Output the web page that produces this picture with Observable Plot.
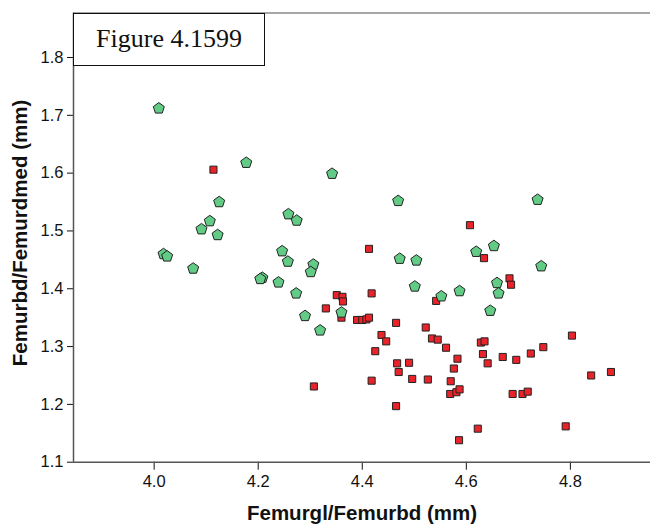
<!DOCTYPE html>
<html><head><meta charset="utf-8">
<script src="https://cdn.jsdelivr.net/npm/d3@7"></script>
<script src="https://cdn.jsdelivr.net/npm/@observablehq/plot@0.6"></script>
<style>
body{margin:0;background:#fff}
#chart{position:relative;width:650px;height:528px}
#fig{position:absolute;left:73px;top:12.5px;width:190px;height:51px;border:1.5px solid #111;background:#fff;
 font-family:"Liberation Serif","Times New Roman",serif;font-size:26px;color:#111;display:flex;align-items:center;justify-content:center;box-sizing:content-box}
</style>
</head><body>
<div id="chart"><div id="fig">Figure 4.1599</div></div>
<script>
const titleText = "Figure 4.1599";
const xLabel = "Femurgl/Femurbd (mm)";
const yLabel = "Femurbd/Femurdmed (mm)";
const xTicks = [4.0, 4.2, 4.4, 4.6, 4.8];
const yTicks = [1.1, 1.2, 1.3, 1.4, 1.5, 1.6, 1.7, 1.8];

// Group 1 (green pentagons)
const group1X = [4.009, 4.177, 4.125, 4.107, 4.091, 4.122, 4.258, 4.274, 4.018, 4.025,
  4.075, 4.246, 4.257, 4.342, 4.469, 4.472, 4.504, 4.306, 4.301, 4.737,
  4.653, 4.619, 4.744, 4.208, 4.204, 4.239, 4.273, 4.290, 4.319, 4.360,
  4.501, 4.552, 4.587, 4.659, 4.662, 4.646];
const group1Y = [1.713, 1.619, 1.551, 1.518, 1.504, 1.494, 1.530, 1.519, 1.461, 1.457,
  1.436, 1.466, 1.448, 1.600, 1.553, 1.453, 1.450, 1.443, 1.430, 1.555,
  1.475, 1.465, 1.440, 1.420, 1.418, 1.412, 1.393, 1.354, 1.329, 1.360,
  1.405, 1.388, 1.397, 1.411, 1.393, 1.363];

// Group 2 (red squares)
const group2X = [4.114, 4.413, 4.607, 4.634, 4.683, 4.686, 4.330, 4.307, 4.351, 4.362,
  4.363, 4.360, 4.390, 4.400, 4.408, 4.413, 4.418, 4.542, 4.465, 4.522,
  4.437, 4.446, 4.534, 4.545, 4.561, 4.425, 4.467, 4.490, 4.470, 4.418,
  4.496, 4.526, 4.570, 4.569, 4.581, 4.587, 4.465, 4.628, 4.635, 4.632,
  4.583, 4.670, 4.696, 4.724, 4.748, 4.641, 4.576, 4.803, 4.840, 4.878,
  4.689, 4.708, 4.718, 4.791, 4.622, 4.586];
const group2Y = [1.606, 1.469, 1.510, 1.453, 1.418, 1.407, 1.366, 1.231, 1.389, 1.386,
  1.378, 1.350, 1.346, 1.346, 1.347, 1.350, 1.392, 1.379, 1.341, 1.333,
  1.320, 1.309, 1.314, 1.312, 1.298, 1.292, 1.271, 1.272, 1.256, 1.241,
  1.244, 1.243, 1.240, 1.218, 1.221, 1.226, 1.197, 1.307, 1.309, 1.287,
  1.279, 1.282, 1.277, 1.288, 1.299, 1.271, 1.262, 1.319, 1.250, 1.256,
  1.218, 1.218, 1.222, 1.162, 1.158, 1.138];

const group1 = group1X.map((x, i) => ({x, y: group1Y[i]}));
const group2 = group2X.map((x, i) => ({x, y: group2Y[i]}));

const pentagon = {
  draw(ctx, size) {
    const r = Math.sqrt(size / Math.PI);
    for (let i = 0; i < 5; i++) {
      const a = -Math.PI / 2 + i * 2 * Math.PI / 5;
      const px = r * Math.cos(a), py = r * Math.sin(a) + r * 0.1;
      if (i === 0) ctx.moveTo(px, py); else ctx.lineTo(px, py);
    }
    ctx.closePath();
  }
};

const xMin = 3.845, xMax = 4.954, yMin = 1.1, yMax = 1.877;

const svg = Plot.plot({
  width: 650, height: 528,
  marginLeft: 73, marginRight: 0, marginTop: 12.5, marginBottom: 66.3,
  style: {fontFamily: "'Liberation Sans', Arial, sans-serif", fontSize: "16.5px", color: "#111", background: "#fff", overflow: "visible"},
  x: {domain: [xMin, xMax], ticks: xTicks, tickFormat: d3.format(".1f"), tickSize: 8, tickPadding: 5, label: null},
  y: {domain: [yMin, yMax], ticks: yTicks, tickFormat: d3.format(".1f"), tickSize: 6, tickPadding: 4, label: null},
  marks: [
    Plot.ruleY([yMax], {stroke: "#888", strokeWidth: 1.5}),
    Plot.ruleY([yMin], {stroke: "#555", strokeWidth: 1.5}),
    Plot.ruleX([xMin], {stroke: "#555", strokeWidth: 1.5}),
    Plot.dot(group2, {x: "x", y: "y", symbol: "square", r: 4, fill: "#e8232a", stroke: "#222", strokeWidth: 1}),
    Plot.dot(group1, {x: "x", y: "y", symbol: pentagon, r: 5.8, fill: "#62cc86", stroke: "#222", strokeWidth: 1})
  ]
});

const s = d3.select(svg);
s.append("text").attr("x", 362).attr("y", 520).attr("text-anchor", "middle")
  .attr("font-weight", "bold").attr("font-size", 20.5).attr("fill", "#111").text(xLabel);
s.append("text").attr("transform", "translate(27,233) rotate(-90)").attr("text-anchor", "middle")
  .attr("font-weight", "bold").attr("font-size", 20.5).attr("fill", "#111").text(yLabel);

document.getElementById("chart").prepend(svg);
document.getElementById("fig").textContent = titleText;
</script>
</body></html>
